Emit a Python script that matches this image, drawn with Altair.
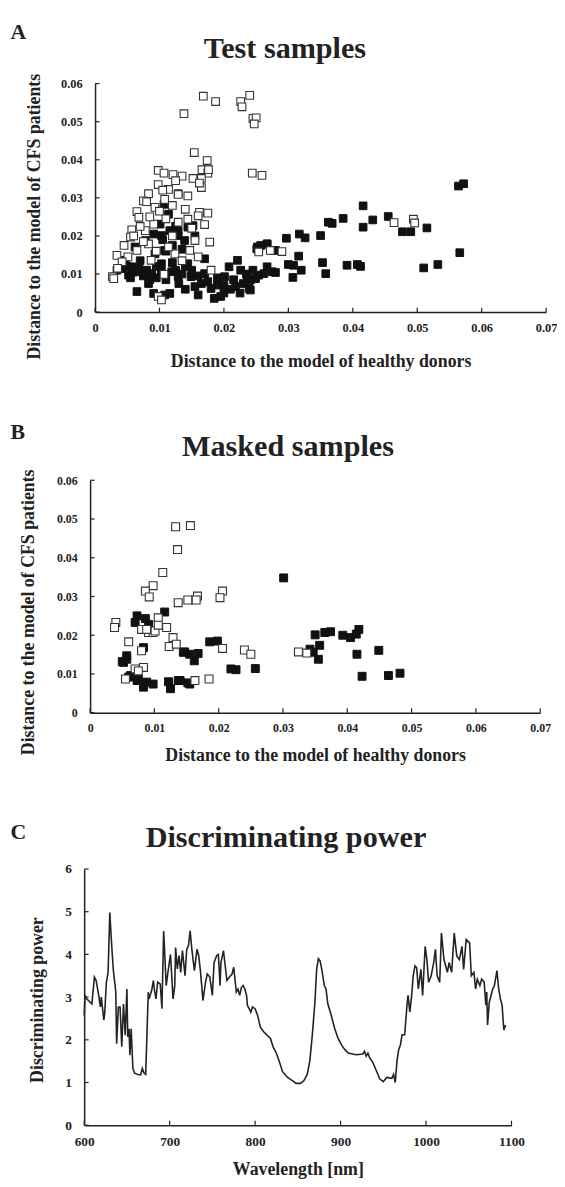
import altair as alt
import pandas as pd

FONT = "Liberation Serif"
INK = "#222222"

# ---------------- Panel A : Test samples ----------------
a_open_x = [0.0138, 0.0168, 0.0187, 0.0226, 0.0228, 0.0240, 0.0245, 0.0250, 0.0247,
            0.0154, 0.0174, 0.0166, 0.0175, 0.0176, 0.0098, 0.0107, 0.0121, 0.0135, 0.0152, 0.0165,
            0.0098, 0.0114, 0.0129, 0.0144, 0.0165, 0.0162, 0.0083, 0.0075, 0.0108, 0.0065,
            0.0068, 0.0093, 0.0162, 0.0160, 0.0144, 0.0057, 0.0055, 0.0078, 0.0091, 0.0129,
            0.0178, 0.0155, 0.0147, 0.0083, 0.0065, 0.0034, 0.0027, 0.0029, 0.0087, 0.0107,
            0.0098, 0.0103, 0.0180, 0.0124, 0.0114, 0.0051, 0.0042, 0.0254, 0.0272,
            0.0244, 0.0259, 0.0464, 0.0494, 0.0496, 0.0290,
            0.0070, 0.0085, 0.0100, 0.0120, 0.0140, 0.0110, 0.0060, 0.0075, 0.0095, 0.0120,
            0.0150, 0.0170, 0.0175, 0.0080, 0.0105, 0.0125, 0.0045, 0.0035, 0.0135, 0.0160]
a_open_y = [0.0521, 0.0567, 0.0553, 0.0553, 0.0539, 0.0569, 0.0509, 0.0510, 0.0494,
            0.0419, 0.0398, 0.0374, 0.0365, 0.0374, 0.0372, 0.0365, 0.0361, 0.0357, 0.0351, 0.0351,
            0.0335, 0.0322, 0.0309, 0.0305, 0.0327, 0.0339, 0.0311, 0.0292, 0.0296, 0.0264,
            0.0249, 0.0275, 0.0262, 0.0253, 0.0244, 0.0216, 0.0197, 0.0214, 0.0231, 0.0236,
            0.0184, 0.0188, 0.0162, 0.0179, 0.0162, 0.0149, 0.0093, 0.0088, 0.0136, 0.0099,
            0.0041, 0.0032, 0.0110, 0.0153, 0.0171, 0.0145, 0.0132, 0.0158, 0.0162,
            0.0365, 0.0359, 0.0235, 0.0244, 0.0234, 0.0159,
            0.0225, 0.0250, 0.0265, 0.0280, 0.0270, 0.0245, 0.0200, 0.0185, 0.0160, 0.0200,
            0.0220, 0.0230, 0.0260, 0.0290, 0.0320, 0.0345, 0.0175, 0.0115, 0.0135, 0.0145]

a_filled_x = [0.0564, 0.0572, 0.0416, 0.0385, 0.0368, 0.0362, 0.0431, 0.0416, 0.0455, 0.0477,
              0.0490, 0.0515, 0.0566, 0.0510, 0.0532, 0.0350, 0.0317, 0.0326, 0.0297, 0.0353,
              0.0358, 0.0391, 0.0407, 0.0412, 0.0316, 0.0300, 0.0308, 0.0320, 0.0307, 0.0280,
              0.0267, 0.0251, 0.0257, 0.0267, 0.0275, 0.0254, 0.0241, 0.0239, 0.0249,
              0.0129, 0.0107, 0.0114, 0.0101, 0.0091, 0.0103, 0.0116, 0.0129, 0.0144, 0.0152,
              0.0129, 0.0139, 0.0078, 0.0062, 0.0047, 0.0042, 0.0057, 0.0073, 0.0088, 0.0103,
              0.0119, 0.0129, 0.0103, 0.0093, 0.0108, 0.0144, 0.0149, 0.0155, 0.0165, 0.0170,
              0.0170, 0.0180, 0.0190, 0.0195, 0.0185, 0.0160, 0.0201, 0.0208, 0.0221, 0.0226,
              0.0236, 0.0218, 0.0241, 0.0262, 0.0275, 0.0252, 0.0267, 0.0280, 0.0065, 0.0091,
              0.0108, 0.0116, 0.0052, 0.0034, 0.0083, 0.0130, 0.0140, 0.0200, 0.0230, 0.0120,
              0.0050, 0.0060, 0.0068, 0.0075, 0.0080, 0.0095, 0.0110, 0.0125, 0.0135, 0.0140,
              0.0150, 0.0160, 0.0175, 0.0190, 0.0200, 0.0210, 0.0215, 0.0225, 0.0235, 0.0245,
              0.0110, 0.0120, 0.0105, 0.0135, 0.0125, 0.0155, 0.0095, 0.0070, 0.0055, 0.0085]
a_filled_y = [0.0331, 0.0337, 0.0279, 0.0246, 0.0233, 0.0236, 0.0242, 0.0223, 0.0251, 0.0211,
              0.0211, 0.0221, 0.0156, 0.0116, 0.0125, 0.0201, 0.0205, 0.0195, 0.0194, 0.0130,
              0.0101, 0.0123, 0.0125, 0.0120, 0.0147, 0.0125, 0.0123, 0.0110, 0.0091, 0.0104,
              0.0119, 0.0166, 0.0175, 0.0179, 0.0162, 0.0097, 0.0084, 0.0062, 0.0088,
              0.0311, 0.0283, 0.0257, 0.0231, 0.0205, 0.0201, 0.0214, 0.0214, 0.0223, 0.0227,
              0.0201, 0.0188, 0.0188, 0.0171, 0.0136, 0.0114, 0.0119, 0.0106, 0.0101, 0.0106,
              0.0106, 0.0093, 0.0127, 0.0153, 0.0162, 0.0127, 0.0093, 0.0067, 0.0075, 0.0140,
              0.0101, 0.0062, 0.0071, 0.0041, 0.0036, 0.0045, 0.0093, 0.0119, 0.0136, 0.0110,
              0.0088, 0.0067, 0.0058, 0.0101, 0.0106, 0.0171, 0.0179, 0.0162, 0.0054, 0.0049,
              0.0045, 0.0049, 0.0097, 0.0110, 0.0075, 0.0075, 0.0060, 0.0050, 0.0075, 0.0130,
              0.0120, 0.0105, 0.0115, 0.0095, 0.0110, 0.0090, 0.0085, 0.0110, 0.0100, 0.0120,
              0.0110, 0.0095, 0.0080, 0.0090, 0.0070, 0.0060, 0.0085, 0.0050, 0.0100, 0.0110,
              0.0160, 0.0175, 0.0190, 0.0165, 0.0225, 0.0200, 0.0120, 0.0135, 0.0090, 0.0085]

# ---------------- Panel B : Masked samples ----------------
b_open_x = [0.0133, 0.0156, 0.0136, 0.0113, 0.0098, 0.0086, 0.0092, 0.0137, 0.0152, 0.0167,
            0.0165, 0.0206, 0.0202, 0.0040, 0.0038, 0.0106, 0.0119, 0.0080, 0.0091, 0.0098,
            0.0129, 0.0060, 0.0123, 0.0134, 0.0080, 0.0206, 0.0240, 0.0250, 0.0324, 0.0337,
            0.0083, 0.0055, 0.0163, 0.0185, 0.0070, 0.0075, 0.0101, 0.0106, 0.0088]
b_open_y = [0.0480, 0.0483, 0.0421, 0.0362, 0.0328, 0.0314, 0.0299, 0.0284, 0.0291, 0.0301,
            0.0291, 0.0314, 0.0297, 0.0233, 0.0220, 0.0245, 0.0220, 0.0215, 0.0207, 0.0207,
            0.0194, 0.0183, 0.0171, 0.0177, 0.0160, 0.0166, 0.0162, 0.0151, 0.0157, 0.0154,
            0.0117, 0.0087, 0.0083, 0.0087, 0.0113, 0.0108, 0.0211, 0.0226, 0.0215]

b_filled_x = [0.0301, 0.0073, 0.0086, 0.0070, 0.0116, 0.0083, 0.0057, 0.0050, 0.0186, 0.0198,
              0.0147, 0.0155, 0.0168, 0.0162, 0.0219, 0.0227, 0.0257, 0.0350, 0.0365, 0.0342,
              0.0355, 0.0060, 0.0073, 0.0088, 0.0098, 0.0122, 0.0137, 0.0152, 0.0083, 0.0125,
              0.0155, 0.0063, 0.0052, 0.0374, 0.0393, 0.0405, 0.0418, 0.0414, 0.0357, 0.0347,
              0.0415, 0.0449, 0.0423, 0.0464, 0.0482, 0.0091, 0.0075, 0.0140, 0.0145, 0.0057]
b_filled_y = [0.0348, 0.0250, 0.0243, 0.0233, 0.0260, 0.0168, 0.0147, 0.0132, 0.0183, 0.0185,
              0.0157, 0.0151, 0.0153, 0.0134, 0.0113, 0.0111, 0.0114, 0.0201, 0.0207, 0.0164,
              0.0138, 0.0092, 0.0083, 0.0079, 0.0074, 0.0080, 0.0083, 0.0077, 0.0066, 0.0062,
              0.0074, 0.0096, 0.0130, 0.0209, 0.0200, 0.0194, 0.0215, 0.0203, 0.0174, 0.0156,
              0.0151, 0.0161, 0.0094, 0.0096, 0.0102, 0.0228, 0.0087, 0.0083, 0.0156, 0.0138]

# ---------------- Panel C : Discriminating power ----------------
c_wavelength = [600, 601, 603, 607, 609, 612, 614, 617, 619, 620,
                622, 623, 624, 626, 628, 630, 632, 634, 637, 638,
                640, 642, 644, 646, 648, 650, 651, 652.5, 653.5, 655,
                657, 659, 663, 666, 668, 670, 672, 675, 676, 679,
                681, 682, 684, 686, 689, 691, 693, 696, 698, 701,
                704, 706, 707, 709, 711, 713, 715, 718, 720, 722,
                724, 726, 729, 732, 734, 736, 739, 742, 744, 747,
                750, 752, 755, 757, 759, 760, 763, 765, 767, 770,
                773, 775, 776, 778, 780, 782, 784, 786, 788, 790,
                791, 793, 795, 797, 800, 803, 806, 810, 814, 818,
                821, 825, 829, 832, 838, 844, 848, 853, 857, 861,
                864, 867, 870, 872, 874, 876, 878, 881, 883, 885,
                889, 893, 897, 901, 905, 909, 918, 926, 928, 930,
                932, 934, 938, 942, 946, 950, 954, 960, 962, 964,
                966, 968, 970, 972, 975, 978, 979, 981, 983, 985,
                987, 989, 991, 994, 996, 999, 1001, 1003, 1006, 1009,
                1011, 1013, 1016, 1018, 1021, 1023, 1025, 1027, 1030, 1033,
                1036, 1039, 1042, 1044, 1047, 1051, 1053, 1056, 1058, 1060,
                1063, 1065, 1068, 1070, 1071, 1072, 1074, 1078, 1080, 1083,
                1085, 1087, 1089, 1091, 1093]
c_power = [2.57, 3.04, 2.96, 2.88, 2.84, 3.47, 3.39, 3.04, 2.77, 3.00,
           2.65, 2.46, 2.61, 3.35, 3.58, 4.98, 4.28, 3.66, 3.12, 1.91,
           2.77, 2.77, 1.84, 2.84, 2.11, 3.19, 2.07, 2.26, 1.64, 2.26,
           1.33, 1.22, 1.19, 1.18, 1.33, 1.22, 1.19, 3.12, 2.96, 3.16,
           3.39, 3.19, 2.96, 3.35, 3.31, 2.73, 4.55, 3.27, 3.58, 4.00,
           2.96, 3.27, 4.16, 3.66, 3.97, 3.58, 4.09, 3.50, 4.12, 4.20,
           4.55, 4.12, 3.62, 4.12, 3.97, 3.62, 2.92, 3.35, 3.54, 3.47,
           3.04, 3.81, 3.97, 4.00, 3.27, 3.81, 4.09, 3.74, 3.39, 3.47,
           3.54, 3.70, 3.50, 3.12, 3.19, 3.04, 3.23, 3.27, 3.19, 3.04,
           2.81, 2.73, 2.65, 2.77, 2.73, 2.57, 2.30, 2.19, 2.11, 2.03,
           1.84, 1.68, 1.45, 1.26, 1.12, 1.04, 0.98, 0.98, 1.04, 1.19,
           1.50, 2.12, 2.88, 3.65, 3.90, 3.85, 3.65, 3.27, 3.19, 2.85,
           2.58, 2.27, 2.04, 1.88, 1.77, 1.69, 1.65, 1.67, 1.73, 1.62,
           1.69, 1.58, 1.46, 1.27, 1.08, 1.02, 1.12, 1.10, 1.19, 1.00,
           1.50, 1.77, 1.88, 2.12, 2.12, 2.88, 3.04, 2.65, 3.00, 3.50,
           3.73, 3.69, 3.19, 3.65, 3.04, 4.19, 3.88, 3.35, 3.50, 3.81,
           4.12, 3.50, 3.35, 4.50, 3.88, 3.73, 3.58, 3.81, 3.58, 4.50,
           3.96, 3.88, 4.19, 3.65, 4.35, 4.27, 3.50, 3.58, 3.19, 3.42,
           3.27, 3.42, 3.35, 2.81, 3.12, 2.35, 2.88, 3.19, 3.27, 3.62,
           3.19, 2.96, 2.81, 2.23, 2.35]

# ---------------- Texts & ticks ----------------
panel_letters = ["A", "B", "C"]
panel_titles = ["Test samples", "Masked samples", "Discriminating power"]
x_titles = ["Distance to the model of healthy donors",
            "Distance to the model of healthy donors", "Wavelength [nm]"]
y_titles = ["Distance to the model of CFS patients",
            "Distance to the model of CFS patients", "Discriminating power"]
dist_x_ticks = [0, 0.01, 0.02, 0.03, 0.04, 0.05, 0.06, 0.07]
dist_y_ticks = [0, 0.01, 0.02, 0.03, 0.04, 0.05, 0.06]
c_x_ticks = [600, 700, 800, 900, 1000, 1100]
c_y_ticks = [0, 1, 2, 3, 4, 5, 6]

# ---------------- Layout (page pixels) ----------------
ORIGIN = 85  # common left origin of all panel groups


def text_layer(txt, x, y, size, align):
    return alt.Chart(pd.DataFrame({"t": [txt]})).mark_text(
        font=FONT, fontWeight="bold", fontSize=size, color=INK,
        align=align, baseline="alphabetic"
    ).encode(text="t:N", x=alt.value(x), y=alt.value(y))


def anchor_layer(y, d):
    # invisible rule used only to fix the panel's layout bounds
    return alt.Chart(pd.DataFrame({"k": [0]})).mark_rule(opacity=0).encode(
        x=alt.value(8 - ORIGIN), x2=alt.value(d + 10), y=alt.value(y))


def make_panel(i, g, xdom, ydom, xt, yt, lab_expr_x, lab_expr_y, main_layers_fn):
    d, w, h, top = g["d"], g["w"], g["h"], g["top"]
    axis_page_x = ORIGIN + d
    xscale = alt.Scale(domain=xdom, range=[d, d + w], nice=False, zero=False)
    yscale = alt.Scale(domain=ydom, nice=False, zero=False)
    xaxis = alt.Axis(title=x_titles[i], values=xt, labelExpr=lab_expr_x,
                     labelFontSize=g["lfs"], labelPadding=g["lpx"],
                     labelFlush=False, labelOverlap=False,
                     titleFontSize=g["tfs"], titleY=g["xty"],
                     titleBaseline="alphabetic")
    yaxis = alt.Axis(title=y_titles[i], values=yt, labelExpr=lab_expr_y,
                     labelFontSize=g["lfs"], labelPadding=g["lpy"],
                     labelFlush=False, labelOverlap=False,
                     titleFontSize=g["tfs"], offset=-d,
                     titleX=g["ytx"] - axis_page_x, titleY=g["yty"] - top,
                     titleAngle=270, titleBaseline="middle", titleAlign="center")
    X = alt.X("x:Q", scale=xscale, axis=xaxis)
    Y = alt.Y("y:Q", scale=yscale, axis=yaxis)

    ytick = alt.Chart(pd.DataFrame({"y": yt})).mark_rule(
        color=INK, strokeWidth=1.2).encode(
        y=Y, x=alt.value(d), x2=alt.value(d + 4.5))
    xtick = alt.Chart(pd.DataFrame({"x": xt})).mark_rule(
        color=INK, strokeWidth=1.2).encode(
        x=X, y=alt.value(h), y2=alt.value(h - 4.5))

    layers = main_layers_fn(X, Y) + [
        ytick, xtick,
        text_layer(panel_letters[i], 10.5 - ORIGIN, g["letter_y"] - top, 22, "left"),
        text_layer(panel_titles[i], g["title_cx"] - ORIGIN, g["title_y"] - top, 30.5, "center"),
        anchor_layer(g["bound_top"] - top, d),
    ]
    if "bound_bottom" in g:
        layers.append(anchor_layer(g["bound_bottom"] - top, d))
    return alt.layer(*layers).properties(width=d + w, height=h)


def scatter_layers(ox, oy, fx, fy, size):
    def fn(X, Y):
        filled = alt.Chart(pd.DataFrame({"x": fx, "y": fy})).mark_point(
            shape="square", filled=True, fill="#111111", stroke="#111111",
            strokeWidth=1, size=size, opacity=1).encode(x=X, y=Y)
        opened = alt.Chart(pd.DataFrame({"x": ox, "y": oy})).mark_point(
            shape="square", filled=True, fill="white", stroke="#333333",
            strokeWidth=1.1, size=size, opacity=1).encode(x=X, y=Y)
        return [filled, opened]
    return fn


def line_layers(wl, pw):
    def fn(X, Y):
        return [alt.Chart(pd.DataFrame({"x": wl, "y": pw})).mark_line(
            color=INK, strokeWidth=1.6).encode(x=X, y=Y)]
    return fn


dist_label = "datum.value == 0 ? '0' : format(datum.value, '.2f')"
int_label = "format(datum.value, 'd')"

geoA = dict(d=11, w=456, h=231, top=78, lfs=12.5, lpx=10, lpy=13, tfs=18,
            xty=55, ytx=35, yty=212, letter_y=33, title_cx=288, title_y=52,
            bound_top=8, bound_bottom=395)
geoB = dict(d=6, w=455, h=235, top=479, lfs=12, lpx=10, lpy=13, tfs=18,
            xty=48, ytx=29, yty=612, letter_y=437, title_cx=291, title_y=454,
            bound_top=395, bound_bottom=795)
geoC = dict(d=0, w=432, h=259, top=872, lfs=13.5, lpx=9, lpy=13, tfs=18,
            xty=50, ytx=38, yty=1004, letter_y=842, title_cx=289, title_y=850,
            bound_top=795)

panelA = make_panel(0, geoA, [0, 0.07], [0, 0.06], dist_x_ticks, dist_y_ticks,
                    dist_label, dist_label,
                    scatter_layers(a_open_x, a_open_y, a_filled_x, a_filled_y, 60))
panelB = make_panel(1, geoB, [0, 0.07], [0, 0.06], dist_x_ticks, dist_y_ticks,
                    dist_label, dist_label,
                    scatter_layers(b_open_x, b_open_y, b_filled_x, b_filled_y, 64))
panelC = make_panel(2, geoC, [600, 1100], [0, 6], c_x_ticks, c_y_ticks,
                    int_label, int_label, line_layers(c_wavelength, c_power))

chart = alt.vconcat(panelA, panelB, panelC, spacing=0).properties(
    padding={"left": 0, "top": 0, "right": 0, "bottom": 0}
).configure_view(stroke=None).configure_axis(
    labelFont=FONT, titleFont=FONT, labelFontWeight="bold", titleFontWeight="bold",
    labelColor=INK, titleColor=INK, domainColor=INK, domainWidth=1.5,
    grid=False, ticks=False, tickSize=0
)

chart.save("out.html", embed_options={"renderer": "svg", "actions": False})
